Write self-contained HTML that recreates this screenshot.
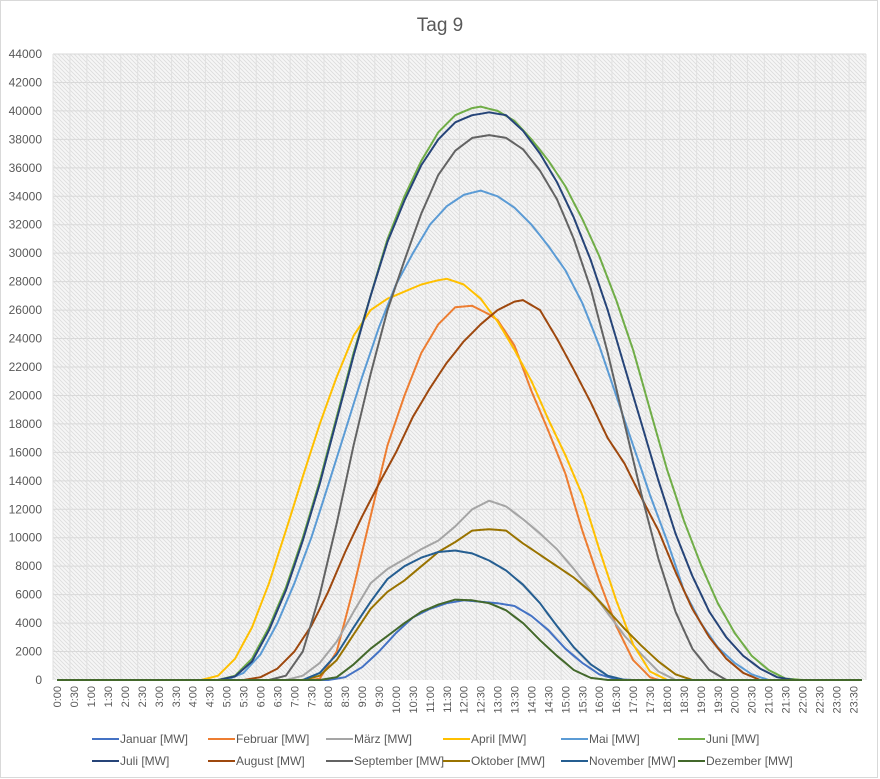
<!DOCTYPE html>
<html><head><meta charset="utf-8"><style>
html,body{margin:0;padding:0;background:#fff;}
svg{display:block;font-family:"Liberation Sans",sans-serif;}
</style></head><body>
<svg id="c" width="880" height="779" xmlns="http://www.w3.org/2000/svg">
<defs>
<pattern id="h" patternUnits="userSpaceOnUse" width="4" height="4">
<rect width="4" height="4" fill="#f6f6f6"/>
<path d="M-1,-1 L5,5 M-1,3 L1,5 M3,-1 L5,1" stroke="#dcdcdc" stroke-width="0.8"/>
</pattern>
</defs>
<rect x="0.5" y="0.5" width="877" height="777" fill="#fff" stroke="#d9d9d9"/>
<text x="440" y="31" text-anchor="middle" font-size="19" fill="#595959">Tag 9</text>
<rect x="53" y="54" width="813" height="626" fill="url(#h)"/>
<g id="grid"></g>
<g id="ylab" font-size="12" fill="#595959" text-anchor="end"></g>
<g id="xlab" font-size="11" fill="#595959"></g>
<g id="series" fill="none" stroke-width="2" stroke-linejoin="round"></g>
<g id="leg" font-size="12" fill="#595959"></g>
</svg>
<script>
var NS="http://www.w3.org/2000/svg";
function el(p,t,a,txt){var e=document.createElementNS(NS,t);for(var k in a)e.setAttribute(k,a[k]);if(txt!=null)e.textContent=txt;document.getElementById(p).appendChild(e);return e;}
var L=53,R=866,T=54,B=680,step=(R-L)/96;
function X(i){return L+step*(i+0.5);}
function Y(v){return B-v*(B-T)/44000;}
for(var v=0;v<=44000;v+=2000){var y=Y(v);if(v>0)el("grid","line",{x1:L,x2:R,y1:y,y2:y,stroke:"#d9d9d9","stroke-width":1});el("ylab","text",{x:42,y:y+4},String(v));}
for(var i=0;i<=48;i++){var x=L+i*2*step;el("grid","line",{x1:x,x2:x,y1:T,y2:B,stroke:"#e0e0e0","stroke-width":1});}
for(var i=0;i<48;i++){var x=X(2*i)+4;var lab=Math.floor(i/2)+":"+(i%2?"30":"00");el("xlab","text",{transform:"translate("+x+",686) rotate(-90)","text-anchor":"end"},lab);}
var S=[
["Januar [MW]","#4472C4",[[8,0],[8.5,200],[9,900],[9.5,2000],[10,3300],[10.5,4400],[11,5000],[11.5,5400],[12,5600],[12.5,5500],[13,5400],[13.5,5200],[14,4500],[14.5,3500],[15,2200],[15.5,1200],[16,400],[16.5,50],[17,0]]],
["Februar [MW]","#ED7D31",[[7.5,0],[7.75,100],[8.25,2000],[8.75,6500],[9.25,11500],[9.75,16500],[10.25,20000],[10.75,23000],[11.25,25000],[11.75,26200],[12.25,26300],[12.75,25700],[13,25300],[13.5,23500],[14,20300],[14.5,17500],[15,14500],[15.5,10500],[16,7000],[16.5,3800],[17,1400],[17.5,200],[17.75,0]]],
["März [MW]","#A5A5A5",[[6.75,0],[7.25,300],[7.75,1200],[8.25,2700],[8.75,4800],[9.25,6800],[9.75,7800],[10.25,8500],[10.75,9200],[11.25,9800],[11.75,10800],[12.25,12000],[12.75,12600],[13.25,12200],[13.75,11300],[14.25,10300],[14.75,9200],[15.25,7800],[15.75,6300],[16.25,4700],[16.75,3100],[17.25,1800],[17.75,600],[18.25,0]]],
["April [MW]","#FFC000",[[4.25,0],[4.75,300],[5.25,1500],[5.75,3700],[6.25,6800],[6.75,10500],[7.25,14300],[7.75,18000],[8.25,21300],[8.75,24200],[9.25,26000],[9.75,26800],[10.25,27300],[10.75,27800],[11.25,28100],[11.5,28200],[12,27800],[12.5,26800],[13,25200],[13.5,23200],[14,21000],[14.5,18300],[15,15800],[15.5,13000],[16,9200],[16.5,5600],[17,2500],[17.5,600],[18,0]]],
["Mai [MW]","#5B9BD5",[[5,0],[5.5,500],[6,1800],[6.5,4000],[7,6800],[7.5,10000],[8,13700],[8.5,17500],[9,21300],[9.5,24800],[10,27800],[10.5,30000],[11,32000],[11.5,33300],[12,34100],[12.5,34400],[13,34000],[13.5,33200],[14,32000],[14.5,30500],[15,28800],[15.5,26500],[16,23500],[16.5,20000],[17,16500],[17.5,13000],[18,9800],[18.5,6300],[19,4000],[19.5,2300],[20,1200],[20.5,400],[21,0]]],
["Juni [MW]","#70AD47",[[4.75,0],[5.25,300],[5.75,1500],[6.25,3700],[6.75,6500],[7.25,10000],[7.75,14000],[8.25,18500],[8.75,23000],[9.25,27000],[9.75,31000],[10.25,34000],[10.75,36500],[11.25,38500],[11.75,39700],[12.25,40200],[12.5,40300],[13,40000],[13.5,39300],[14,38000],[14.5,36500],[15,34700],[15.5,32400],[16,29800],[16.5,26700],[17,23200],[17.5,19000],[18,14800],[18.5,11200],[19,8100],[19.5,5400],[20,3300],[20.5,1700],[21,700],[21.5,100],[22,0]]],
["Juli [MW]","#264478",[[4.75,0],[5.25,250],[5.75,1300],[6.25,3500],[6.75,6300],[7.25,9800],[7.75,13800],[8.25,18300],[8.75,22800],[9.25,27000],[9.75,30800],[10.25,33700],[10.75,36200],[11.25,38000],[11.75,39200],[12.25,39700],[12.75,39900],[13.25,39700],[13.75,38600],[14.25,37000],[14.75,35000],[15.25,32500],[15.75,29500],[16.25,26000],[16.75,22000],[17.25,18000],[17.75,14000],[18.25,10300],[18.75,7300],[19.25,4800],[19.75,3000],[20.25,1700],[20.75,800],[21.25,200],[21.75,0]]],
["August [MW]","#9E480E",[[5.5,0],[6,200],[6.5,800],[7,2000],[7.5,3800],[8,6200],[8.5,9000],[9,11500],[9.5,13800],[10,16000],[10.5,18500],[11,20500],[11.5,22300],[12,23800],[12.5,25000],[13,26000],[13.5,26600],[13.75,26700],[14.25,26000],[14.75,24000],[15.25,21800],[15.75,19500],[16.25,17000],[16.75,15200],[17.25,12800],[17.75,10500],[18.25,7600],[18.75,5000],[19.25,3000],[19.75,1500],[20.25,500],[20.75,0]]],
["September [MW]","#636363",[[6.25,0],[6.75,300],[7.25,2000],[7.75,6000],[8.25,11000],[8.75,16500],[9.25,21500],[9.75,26000],[10.25,29500],[10.75,32800],[11.25,35500],[11.75,37200],[12.25,38100],[12.75,38300],[13.25,38100],[13.75,37300],[14.25,35800],[14.75,33800],[15.25,31000],[15.75,27500],[16.25,23000],[16.75,18000],[17.25,13000],[17.75,8500],[18.25,4800],[18.75,2200],[19.25,700],[19.75,0]]],
["Oktober [MW]","#997300",[[7.25,0],[7.75,300],[8.25,1400],[8.75,3200],[9.25,5000],[9.75,6200],[10.25,7000],[10.75,8000],[11.25,9000],[11.75,9700],[12.25,10500],[12.75,10600],[13.25,10500],[13.75,9600],[14.25,8800],[14.75,8000],[15.25,7200],[15.75,6200],[16.25,4900],[16.75,3600],[17.25,2400],[17.75,1300],[18.25,400],[18.75,0]]],
["November [MW]","#255E91",[[7.25,0],[7.75,500],[8.25,1800],[8.75,3700],[9.25,5500],[9.75,7100],[10.25,8000],[10.75,8600],[11.25,9000],[11.75,9100],[12.25,8900],[12.75,8400],[13.25,7700],[13.75,6700],[14.25,5400],[14.75,3800],[15.25,2300],[15.75,1100],[16.25,300],[16.75,0]]],
["Dezember [MW]","#43682B",[[7.75,0],[8.25,200],[8.75,1100],[9.25,2200],[9.75,3100],[10.25,4000],[10.75,4800],[11.25,5300],[11.75,5650],[12.25,5600],[12.75,5400],[13.25,4900],[13.75,4000],[14.25,2800],[14.75,1700],[15.25,700],[15.75,150],[16.25,0]]]
];
function val(p,t){if(t<=p[0][0]||t>=p[p.length-1][0])return 0;for(var k=1;k<p.length;k++){if(t<=p[k][0]){var a=p[k-1],b=p[k];return a[1]+(b[1]-a[1])*(t-a[0])/(b[0]-a[0]);}}return 0;}
S.forEach(function(s){var d="";for(var i=0;i<96;i++){var t=i/4;d+=(i?"L":"M")+X(i).toFixed(1)+","+Y(val(s[2],t)).toFixed(1);}el("series","path",{d:d,stroke:s[1]});});
var cols=[92,208,326,443,561,678];
S.forEach(function(s,i){var r=Math.floor(i/6),c=i%6,x=cols[c],y=r?761:739;el("leg","line",{x1:x,x2:x+27,y1:y,y2:y,stroke:s[1],"stroke-width":2});el("leg","text",{x:x+28,y:y+4},s[0]);});
</script>
</body></html>
